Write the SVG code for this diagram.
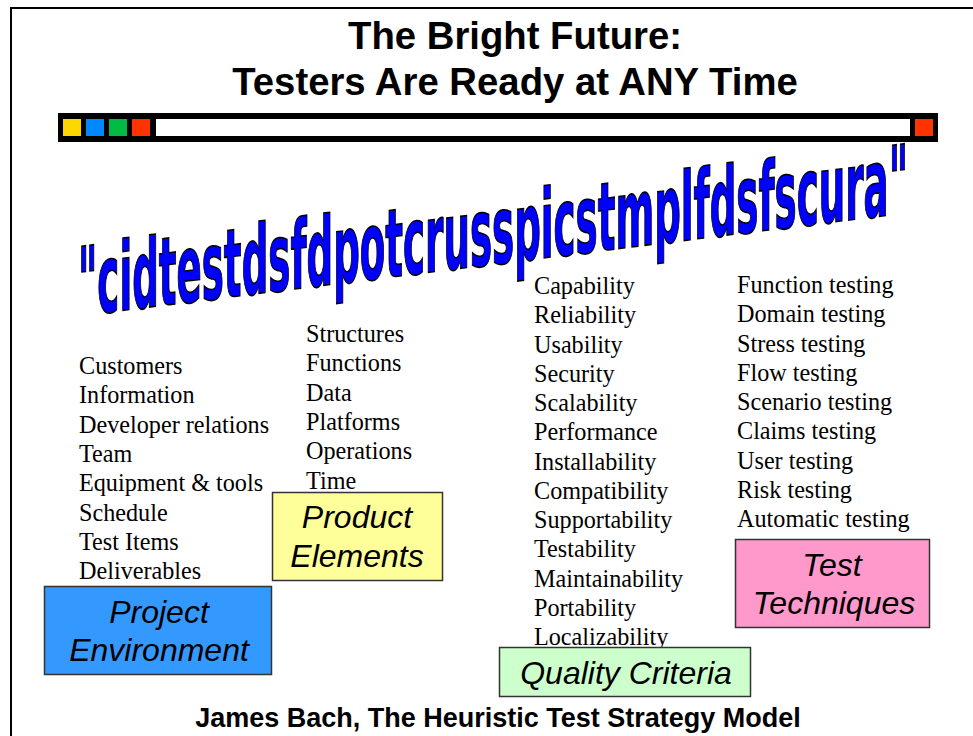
<svg xmlns="http://www.w3.org/2000/svg" width="973" height="736" viewBox="0 0 973 736">
<style>
.title{font-family:"Liberation Sans",Arial,sans-serif;font-weight:bold;font-size:38.3px;fill:#000;text-anchor:middle}
.foot{font-family:"Liberation Sans",Arial,sans-serif;font-weight:bold;font-size:27px;fill:#000;text-anchor:middle}
.item{font-family:"Liberation Serif","Times New Roman",serif;font-size:24.2px;fill:#000}
.lbl{font-family:"Liberation Sans",Arial,sans-serif;font-style:italic;font-size:32px;fill:#000;text-anchor:middle}
.box{stroke:#333;stroke-width:1.5}
.wa{font-family:"Liberation Sans Narrow","DejaVu Sans Condensed","Liberation Sans",sans-serif;font-weight:bold;font-size:78px;fill:#0000FF;stroke:#000;stroke-width:1.3}
</style>
<rect width="973" height="736" fill="#fff"/>
<g id="frame">
<path d="M11,736 V8 H973" fill="none" stroke="#000" stroke-width="2"/>
</g>
<g id="title">
<text class="title" x="515" y="49">The Bright Future:</text>
<text class="title" x="515" y="95">Testers Are Ready at ANY Time</text>
</g>
<g id="bar">
<rect x="58" y="113" width="880" height="29" fill="#000"/>
<rect x="156" y="119" width="754" height="17" fill="#fff"/>
<rect x="63" y="119" width="18" height="17" fill="#FFD700"/>
<rect x="86" y="119" width="18" height="17" fill="#0088FF"/>
<rect x="109" y="119" width="18" height="17" fill="#00BB44"/>
<rect x="132" y="119" width="18" height="17" fill="#FF3300"/>
<rect x="915" y="119" width="18" height="17" fill="#FF3300"/>
</g>
<g id="wordart" transform="translate(78,316) skewY(-7.1) scale(1,1.22)">
<text class="wa" x="0" y="0" textLength="830" lengthAdjust="spacingAndGlyphs">"cidtestdsfdpotcrusspicstmplfdsfscura"</text>
</g>
<g id="list-project" class="item">
<text x="79" y="374">Customers</text>
<text x="79" y="403.3">Information</text>
<text x="79" y="432.6">Developer relations</text>
<text x="79" y="461.9">Team</text>
<text x="79" y="491.2">Equipment &amp; tools</text>
<text x="79" y="520.5">Schedule</text>
<text x="79" y="549.8">Test Items</text>
<text x="79" y="579.1">Deliverables</text>
</g>
<g id="list-product" class="item">
<text x="306" y="342">Structures</text>
<text x="306" y="371.3">Functions</text>
<text x="306" y="400.6">Data</text>
<text x="306" y="429.9">Platforms</text>
<text x="306" y="459.2">Operations</text>
<text x="306" y="488.5">Time</text>
</g>
<g id="list-quality" class="item">
<text x="534" y="294">Capability</text>
<text x="534" y="323.25">Reliability</text>
<text x="534" y="352.5">Usability</text>
<text x="534" y="381.75">Security</text>
<text x="534" y="411">Scalability</text>
<text x="534" y="440.25">Performance</text>
<text x="534" y="469.5">Installability</text>
<text x="534" y="498.75">Compatibility</text>
<text x="534" y="528">Supportability</text>
<text x="534" y="557.25">Testability</text>
<text x="534" y="586.5">Maintainability</text>
<text x="534" y="615.75">Portability</text>
<text x="534" y="645">Localizability</text>
</g>
<g id="list-techniques" class="item">
<text x="737" y="293">Function testing</text>
<text x="737" y="322.25">Domain testing</text>
<text x="737" y="351.5">Stress testing</text>
<text x="737" y="380.75">Flow testing</text>
<text x="737" y="410">Scenario testing</text>
<text x="737" y="439.25">Claims testing</text>
<text x="737" y="468.5">User testing</text>
<text x="737" y="497.75">Risk testing</text>
<text x="737" y="527">Automatic testing</text>
</g>
<g id="project-environment">
<rect class="box" x="44.5" y="586.5" width="227" height="88" fill="#3399FF"/>
<text class="lbl" x="159" y="623">Project</text>
<text class="lbl" x="159" y="661">Environment</text>
</g>
<g id="product-elements">
<rect class="box" x="272.5" y="492.5" width="170" height="88" fill="#FFFF99"/>
<text class="lbl" x="357" y="528">Product</text>
<text class="lbl" x="357" y="567">Elements</text>
</g>
<g id="test-techniques">
<rect class="box" x="735.5" y="539.5" width="194" height="88" fill="#FF99CC"/>
<text class="lbl" x="832" y="576">Test</text>
<text class="lbl" x="834" y="614">Techniques</text>
</g>
<g id="quality-criteria">
<rect class="box" x="499.5" y="647.5" width="251" height="49" fill="#CCFFCC"/>
<text class="lbl" x="626" y="684">Quality Criteria</text>
</g>
<g id="connectors"></g>
<g id="footer">
<text class="foot" x="498" y="727">James Bach, The Heuristic Test Strategy Model</text>
</g>
</svg>
